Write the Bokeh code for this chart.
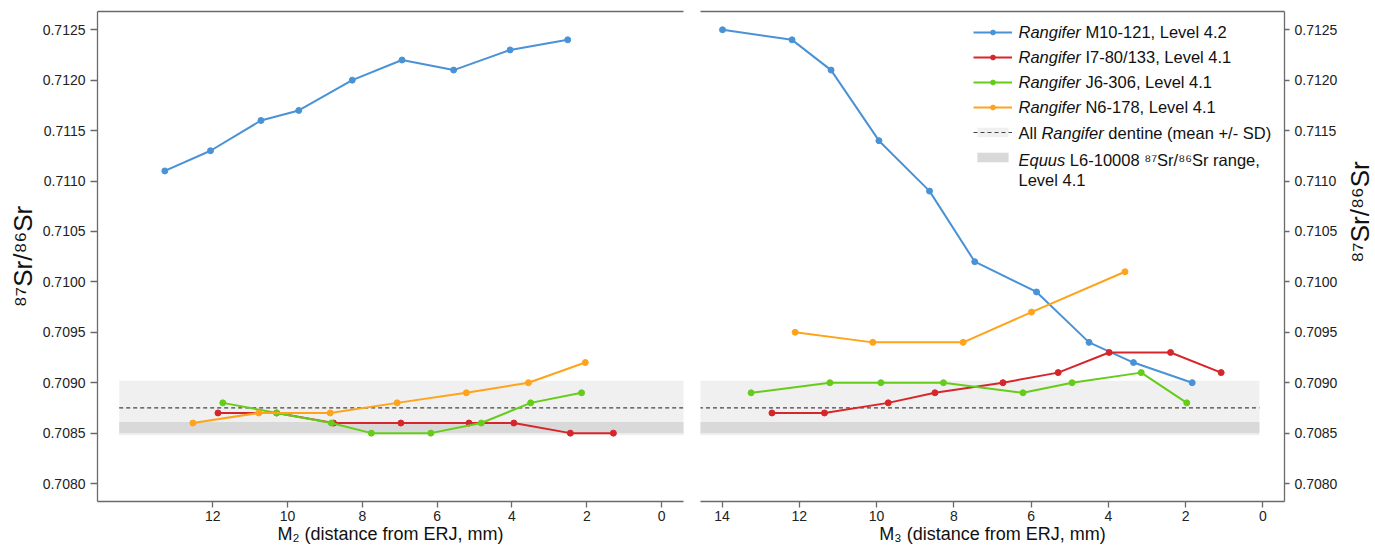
import math
from bokeh.plotting import figure
from bokeh.layouts import row
from bokeh.models import (Range1d, FixedTicker, LinearAxis, Legend, LegendItem,
                          Label, PrintfTickFormatter)
from bokeh.embed import file_html
from bokeh.resources import INLINE

# ---------------- data ----------------
# M2 panel (distance from ERJ, mm) -> 87Sr/86Sr
m2_blue_x = [13.28, 12.06, 10.71, 9.70, 8.27, 6.94, 5.56, 4.05, 2.51]
m2_blue_y = [0.7111, 0.7113, 0.7116, 0.7117, 0.7120, 0.7122, 0.7121, 0.7123, 0.7124]
m2_red_x = [11.86, 10.29, 8.77, 6.97, 5.15, 3.95, 2.44, 1.29]
m2_red_y = [0.7087, 0.7087, 0.7086, 0.7086, 0.7086, 0.7086, 0.7085, 0.7085]
m2_green_x = [11.73, 10.29, 8.83, 7.76, 6.17, 4.82, 3.50, 2.14]
m2_green_y = [0.7088, 0.7087, 0.7086, 0.7085, 0.7085, 0.7086, 0.7088, 0.7089]
m2_orange_x = [12.53, 10.77, 8.86, 7.07, 5.22, 3.56, 2.04]
m2_orange_y = [0.7086, 0.7087, 0.7087, 0.7088, 0.7089, 0.7090, 0.7092]

# M3 panel
m3_blue_x = [13.99, 12.19, 11.18, 9.94, 8.63, 7.46, 5.86, 4.50, 3.35, 1.83]
m3_blue_y = [0.7125, 0.7124, 0.7121, 0.7114, 0.7109, 0.7102, 0.7099, 0.7094, 0.7092, 0.7090]
m3_red_x = [12.71, 11.35, 9.70, 8.49, 6.73, 5.30, 3.98, 2.39, 1.08]
m3_red_y = [0.7087, 0.7087, 0.7088, 0.7089, 0.7090, 0.7091, 0.7093, 0.7093, 0.7091]
m3_green_x = [13.25, 11.21, 9.89, 8.27, 6.21, 4.94, 3.15, 1.97]
m3_green_y = [0.7089, 0.7090, 0.7090, 0.7090, 0.7089, 0.7090, 0.7091, 0.7088]
m3_orange_x = [12.11, 10.10, 7.76, 5.99, 3.57]
m3_orange_y = [0.7095, 0.7094, 0.7094, 0.7097, 0.7101]

dentine_mean = 0.70875
dentine_sd = 0.00027
equus_low = 0.70850
equus_high = 0.70861
band_x_m2 = [14.5, -0.6]
band_x_m3 = [14.6, 0.09]

y_ticks = [0.7080, 0.7085, 0.7090, 0.7095, 0.7100, 0.7105, 0.7110, 0.7115, 0.7120, 0.7125]
m2_ticks = [0, 2, 4, 6, 8, 10, 12]
m3_ticks = [0, 2, 4, 6, 8, 10, 12, 14]

series_names = ["M10-121, Level 4.2", "I7-80/133, Level 4.1",
                "J6-306, Level 4.1", "N6-178, Level 4.1"]
colors = ["#4a92d6", "#d7262b", "#66cc1a", "#ffa31a"]
y_title = "\u2078\u2077Sr/\u2078\u2076Sr"

FONT = "Liberation Sans"
AXIS_COL = "#6a6a6a"
TXT_COL = "#222222"
Y_RANGE = (0.707822, 0.712681)
FIG_H = 546
TOP = 11
FRAME_H = 491


def style_axis(ax, tick_out):
    ax.axis_line_color = AXIS_COL
    ax.axis_line_width = 1.3
    ax.major_tick_line_color = AXIS_COL
    ax.major_tick_line_width = 1.3
    ax.major_tick_out = tick_out
    ax.major_tick_in = 0
    ax.minor_tick_line_color = None
    ax.major_label_text_font = FONT
    ax.major_label_text_font_size = "14px"
    ax.major_label_text_color = TXT_COL
    ax.axis_label_text_font = FONT
    ax.axis_label_text_font_style = "normal"
    ax.axis_label_text_color = "#111111"


def make_fig(width, xr, yloc, mbl, mbr):
    p = figure(width=width, height=FIG_H, x_range=Range1d(*xr),
               y_range=Range1d(*Y_RANGE), y_axis_location=yloc,
               output_backend="svg", toolbar_location=None,
               min_border_left=mbl, min_border_right=mbr,
               min_border_top=TOP, min_border_bottom=FIG_H - TOP - FRAME_H)
    p.outline_line_color = None
    p.xgrid.grid_line_color = None
    p.ygrid.grid_line_color = None
    p.background_fill_color = "white"
    top = LinearAxis(ticker=FixedTicker(ticks=[]))
    top.axis_line_color = AXIS_COL
    top.axis_line_width = 1.3
    top.major_tick_line_color = None
    top.minor_tick_line_color = None
    top.major_label_text_font_size = "0px"
    top.major_label_standoff = 0
    top.major_tick_out = 0
    top.major_tick_in = 0
    p.add_layout(top, "above")
    return p


def draw_panel(p, band_x, data):
    band = p.quad(left=band_x[0], right=band_x[1],
                  bottom=dentine_mean - dentine_sd, top=dentine_mean + dentine_sd,
                  fill_color="#f0f0f0", line_color=None)
    eq = p.quad(left=band_x[0], right=band_x[1], bottom=equus_low, top=equus_high,
                fill_color="#d9d9d9", line_color=None)
    mean = p.segment(x0=band_x[0], x1=band_x[1], y0=dentine_mean, y1=dentine_mean,
                     line_color="#444444", line_width=1.1, line_dash="4 3")
    rends = []
    for (xs, ys), c in zip(data, colors):
        ln = p.line(xs, ys, line_color=c, line_width=2)
        sc = p.scatter(xs, ys, size=6, fill_color=c, line_color=c)
        rends.append((ln, sc))
    return band, eq, mean, rends


def style_bottom(ax, ticks, title):
    style_axis(ax, 6)
    ax.ticker = FixedTicker(ticks=ticks)
    ax.major_label_standoff = 3
    ax.axis_label = title
    ax.axis_label_text_font_size = "18px"
    ax.axis_label_standoff = 0


# ---------------- left panel (M2) ----------------
p1 = make_fig(691, (15.08, -0.585), "left", 97, 8)
draw_panel(p1, band_x_m2, [(m2_blue_x, m2_blue_y), (m2_red_x, m2_red_y),
                           (m2_green_x, m2_green_y), (m2_orange_x, m2_orange_y)])
style_bottom(p1.below[0], m2_ticks, "M\u2082 (distance from ERJ, mm)")
ly1 = p1.left[0]
style_axis(ly1, 7)
ly1.ticker = FixedTicker(ticks=y_ticks)
ly1.formatter = PrintfTickFormatter(format="%.4f")
ly1.major_label_standoff = 5
ly1.axis_label = y_title
ly1.axis_label_text_font_size = "26px"
ly1.axis_label_standoff = 2

# ---------------- right panel (M3) ----------------
p2 = make_fig(649, (14.56, -0.56), "right", 9, 54)
band, eq, mean, rends = draw_panel(
    p2, band_x_m3, [(m3_blue_x, m3_blue_y), (m3_red_x, m3_red_y),
                    (m3_green_x, m3_green_y), (m3_orange_x, m3_orange_y)])
style_bottom(p2.below[0], m3_ticks, "M\u2083 (distance from ERJ, mm)")
ry2 = p2.right[0]
style_axis(ry2, 5)
ry2.ticker = FixedTicker(ticks=y_ticks)
ry2.formatter = PrintfTickFormatter(format="%.4f")
ry2.major_label_standoff = 5

# legend samples (labels drawn separately to allow italics)
items = [LegendItem(label=" ", renderers=[ln, sc]) for ln, sc in rends]
items.append(LegendItem(label=" ", renderers=[band, mean]))
items.append(LegendItem(label=" ", renderers=[eq]))
legend = Legend(items=items, location=(273, FRAME_H - 15.7 - 137), padding=0,
                margin=0, spacing=13,
                glyph_width=39, glyph_height=12, label_height=0, label_width=0,
                label_standoff=0, label_text_font_size="1px",
                border_line_color=None, background_fill_alpha=0)
p2.add_layout(legend)

LFS = 16.5
em = LFS
rang_w = 3.779 * em
sp_w = 0.278 * em
lx = 318
frame_bottom = TOP + FRAME_H
rows_page_y = [32.7, 57.7, 82.7, 107.7, 133.3, 160.7, 180.7]
rows_y = [frame_bottom - yy for yy in rows_page_y]


def lab(x, y, text, italic=False):
    p2.add_layout(Label(x=x, y=y, x_units="screen", y_units="screen", text=text,
                        text_font=FONT, text_font_size=f"{LFS}px",
                        text_font_style="italic" if italic else "normal",
                        text_color="#111111", text_baseline="middle"))


for name, yy in zip(series_names, rows_y[:4]):
    lab(lx, yy, "Rangifer", True)
    lab(lx + rang_w + sp_w, yy, name)
all_w = 1.389 * em
lab(lx, rows_y[4], "All")
lab(lx + all_w, rows_y[4], "Rangifer", True)
lab(lx + all_w + rang_w + sp_w, rows_y[4], "dentine (mean +/- SD)")
equus_w = 2.835 * em
lab(lx, rows_y[5], "Equus", True)
lab(lx + equus_w + sp_w, rows_y[5], "L6-10008 " + y_title + " range,")
lab(lx, rows_y[6], "Level 4.1")

# ---------------- right-hand y title strip ----------------
p3 = figure(width=35, height=FIG_H, x_axis_location=None, y_axis_location=None,
            output_backend="svg", toolbar_location=None, min_border=0)
p3.outline_line_color = None
p3.xgrid.grid_line_color = None
p3.ygrid.grid_line_color = None
p3.add_layout(Label(x=19, y=FIG_H - (TOP + FRAME_H / 2), x_units="screen",
                    y_units="screen", text=y_title, angle=math.pi / 2,
                    text_font=FONT, text_font_size="26px", text_color="#111111",
                    text_align="center", text_baseline="middle"))

layout = row(p1, p2, p3)
open("out.html", "w").write(file_html(layout, INLINE))
